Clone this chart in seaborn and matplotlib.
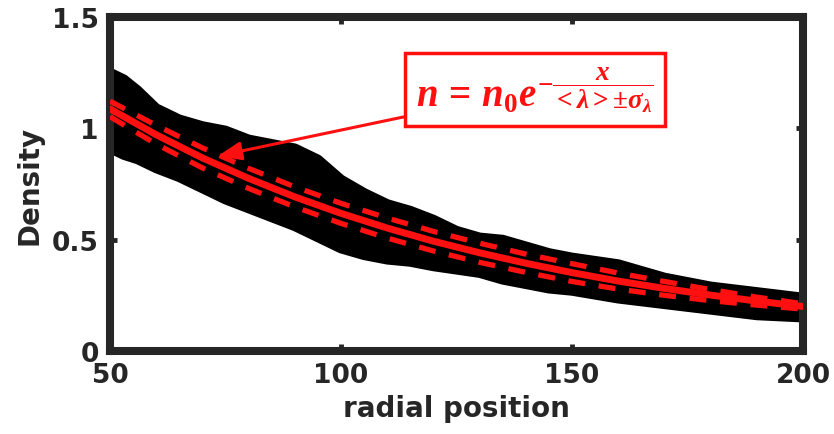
import numpy as np
import pandas as pd
import seaborn as sns
import matplotlib.pyplot as plt

band_x = [50, 53, 56, 60, 65, 70, 75, 80, 85, 90, 95, 100, 105, 110, 115, 120, 125, 130, 135, 140, 145, 150, 160, 170, 180, 190, 200]
band_upper = [1.25, 1.22, 1.17, 1.09, 1.04, 1.01, 0.99, 0.95, 0.93, 0.91, 0.86, 0.77, 0.71, 0.66, 0.63, 0.59, 0.54, 0.51, 0.50, 0.47, 0.44, 0.42, 0.39, 0.33, 0.29, 0.265, 0.24]
band_lower = [0.91, 0.88, 0.86, 0.82, 0.78, 0.73, 0.68, 0.64, 0.60, 0.56, 0.51, 0.46, 0.43, 0.41, 0.40, 0.38, 0.365, 0.35, 0.32, 0.30, 0.28, 0.27, 0.235, 0.21, 0.185, 0.16, 0.15]

# fit and +/- sigma curves
fit_x = [50, 60, 70, 80, 90, 100, 110, 120, 130, 140, 150, 160, 170, 180, 190, 200]
fit_mid = [1.087, 0.971, 0.867, 0.775, 0.692, 0.618, 0.552, 0.493, 0.441, 0.394, 0.352, 0.314, 0.281, 0.251, 0.224, 0.200]
fit_hi = [1.122, 1.013, 0.912, 0.820, 0.737, 0.663, 0.597, 0.537, 0.484, 0.435, 0.392, 0.350, 0.312, 0.276, 0.242, 0.212]
fit_lo = [1.052, 0.929, 0.822, 0.730, 0.647, 0.573, 0.507, 0.449, 0.398, 0.353, 0.312, 0.278, 0.250, 0.226, 0.206, 0.188]

sns.set_theme(style='ticks')
plt.rcParams['font.family'] = ['DejaVu Sans']
plt.rcParams['font.weight'] = 'bold'
plt.rcParams['mathtext.fontset'] = 'custom'
plt.rcParams['mathtext.it'] = 'Liberation Serif:italic:bold'
plt.rcParams['mathtext.rm'] = 'Liberation Serif:bold'
plt.rcParams['mathtext.bf'] = 'Liberation Serif:bold'

dark = '#262626'
red = '#ff1010'
fig = plt.figure(figsize=(8.34, 4.35), dpi=100)
ax = fig.add_axes([0.1319, 0.1908, 0.831, 0.768])

ax.fill_between(band_x, band_lower, band_upper, color='black', lw=0, zorder=2)
sns.lineplot(x=band_x, y=band_upper, color='black', lw=7, ax=ax, zorder=2)
sns.lineplot(x=band_x, y=band_lower, color='black', lw=7, ax=ax, zorder=2)

sns.lineplot(x=fit_x, y=fit_mid, color=red, lw=5, ax=ax, zorder=4)
for curve in (fit_hi, fit_lo):
    ax.plot(fit_x, curve, color=red, lw=3.8, ls=(0, (3.2, 2.6)), zorder=3)

ax.annotate(r'$n\,=\,n_0 e^{-\dfrac{x}{<\lambda>\pm\sigma_\lambda}}$',
            xy=(73.4, 0.876), xytext=(142, 1.175),
            ha='center', va='center', fontsize=28, color=red,
            bbox=dict(boxstyle='square,pad=0.3', fc='white', ec=red, lw=2.5),
            arrowprops=dict(arrowstyle='-|>,head_length=0.5,head_width=0.2',
                            color=red, lw=2.2, shrinkA=0, shrinkB=0),
            zorder=6)

ax.set_xlim(50, 200)
ax.set_ylim(0, 1.5)
ax.set_xticks([50, 100, 150, 200])
ax.set_yticks([0, 0.5, 1, 1.5])
ax.set_yticklabels(['0', '0.5', '1', '1.5'])
ax.tick_params(direction='in', length=5, width=3.5, colors=dark, labelsize=19,
               top=True, right=True, pad=8)
for lab in ax.get_xticklabels() + ax.get_yticklabels():
    lab.set_fontweight('bold')
for s in ax.spines.values():
    s.set_visible(True)
    s.set_linewidth(5.8)
    s.set_color(dark)
ax.set_xlabel('radial position', fontsize=20, fontweight='bold', color=dark, labelpad=4)
ax.set_ylabel('Density', fontsize=20, fontweight='bold', color=dark, labelpad=6)

fig.savefig('out.png', dpi=100)
